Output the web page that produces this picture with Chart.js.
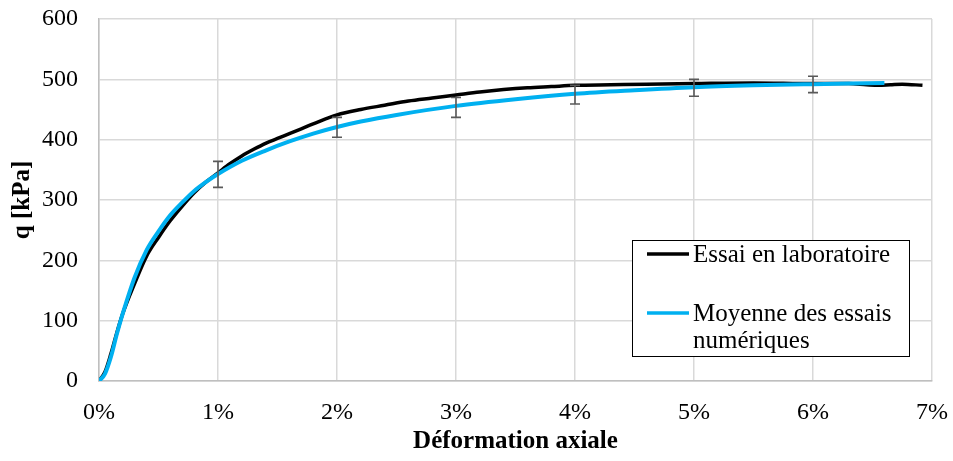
<!DOCTYPE html>
<html>
<head>
<meta charset="utf-8">
<script src="https://cdn.jsdelivr.net/npm/chart.js@4/dist/chart.umd.min.js"></script>
<style>
html,body{margin:0;padding:0;background:#fff;}
#wrap{width:953px;height:461px;position:relative;}
</style>
</head>
<body>
<div id="wrap"><canvas id="c" width="953" height="461"></canvas></div>
<script>
// Data (x in % axial strain, y in kPa)
const labX = [0,0.05,0.1,0.15,0.2,0.3,0.4,0.5,0.6,0.7,0.8,0.9,1.0,1.1,1.2,1.3,1.4,1.5,1.6,1.7,1.8,2.0,2.2,2.4,2.6,2.8,3.0,3.2,3.4,3.6,3.8,4.0,4.3,4.6,5.0,5.5,6.0,6.3,6.45,6.55,6.65,6.75,6.92];
const labQ = [0,15,45,80,112,162,207,238,266,290,312,330,345,360,373,384,394,402,410,418,426,441,450,457,464,469,474,479,483,486,488,490,491,492,493,494,493,493,491,490,491,492,490];
const numX = [0,0.05,0.1,0.15,0.2,0.3,0.4,0.5,0.6,0.7,0.8,0.9,1.0,1.2,1.4,1.6,1.8,2.0,2.2,2.5,3.0,3.5,4.0,4.5,5.0,5.5,6.0,6.3,6.6];
const numQ = [0,12,40,78,112,172,217,248,275,296,315,330,343,365,382,397,410,421,430,441,456,467,476,482,487,490,492,493,494];
const errX = [1,2,3,4,5,6];
const errLow = [321,404,437,459,472,478];
const errHigh = [364,437,470,490,500,505];
const xTicks = [0,1,2,3,4,5,6,7];
const yTicks = [0,100,200,300,400,500,600];
const seriesNames = ['Essai en laboratoire','Moyenne des essais numériques'];

const toPts = (xs, ys) => xs.map((x,i)=>({x:x, y:ys[i]}));
const FONT = '"Liberation Serif", "Times New Roman", serif';

const errorBars = {
  id:'errorBars',
  afterDatasetsDraw(chart){
    const {ctx, scales:{x,y}} = chart;
    ctx.save();
    ctx.strokeStyle = '#595959';
    ctx.lineWidth = 1.6;
    errX.forEach((v,i)=>{
      const px = x.getPixelForValue(v);
      const y1 = y.getPixelForValue(errLow[i]);
      const y2 = y.getPixelForValue(errHigh[i]);
      ctx.beginPath();
      ctx.moveTo(px,y1); ctx.lineTo(px,y2);
      ctx.moveTo(px-5,y1); ctx.lineTo(px+5,y1);
      ctx.moveTo(px-5,y2); ctx.lineTo(px+5,y2);
      ctx.stroke();
    });
    ctx.restore();
  }
};

const boxLegend = {
  id:'boxLegend',
  afterDraw(chart){
    const {ctx, chartArea:a} = chart;
    const L = a.right - 300, T = a.top + 221, W = 277, H = 116;
    ctx.save();
    ctx.fillStyle = '#fff';
    ctx.fillRect(L,T,W,H);
    ctx.strokeStyle = '#000';
    ctx.lineWidth = 1;
    ctx.strokeRect(L+0.5,T+0.5,W,H);
    const ds = chart.data.datasets;
    ctx.font = '25px ' + FONT;
    ctx.textBaseline = 'middle';
    ctx.fillStyle = '#000';
    ctx.lineWidth = 3.5;
    ctx.strokeStyle = ds[0].borderColor;
    ctx.beginPath(); ctx.moveTo(L+15,T+14); ctx.lineTo(L+57,T+14); ctx.stroke();
    ctx.fillText(ds[0].label, L+61, T+15);
    ctx.strokeStyle = ds[1].borderColor;
    ctx.beginPath(); ctx.moveTo(L+15,T+73); ctx.lineTo(L+57,T+73); ctx.stroke();
    ctx.fillText('Moyenne des essais', L+61, T+74);
    ctx.fillText('numériques', L+61, T+101);
    ctx.restore();
  }
};

new Chart(document.getElementById('c'), {
  type:'line',
  data:{
    datasets:[
      {label:seriesNames[0], data:toPts(labX,labQ), borderColor:'#000000', borderWidth:3.5, pointRadius:0, cubicInterpolationMode:'monotone', order:1, fill:false},
      {label:seriesNames[1], data:toPts(numX,numQ), borderColor:'#00B0F0', borderWidth:4, pointRadius:0, cubicInterpolationMode:'monotone', order:0, fill:false}
    ]
  },
  options:{
    responsive:false,
    animation:false,
    events:[],
    layout:{padding:{top:0,right:0,left:0,bottom:4}},
    plugins:{legend:{display:false}, tooltip:{enabled:false}},
    scales:{
      x:{
        type:'linear', min:0, max:7,
        afterBuildTicks(s){ s.ticks = xTicks.map(v=>({value:v})); },
        afterFit(s){ s.height = 76; s.paddingRight = 21; s.paddingLeft = 0; },
        ticks:{callback:v=>v+'%', color:'#000', font:{family:FONT, size:24}, padding:17, maxRotation:0},
        grid:{color:'#d9d9d9', lineWidth:1.5, drawTicks:false},
        border:{color:'#bfbfbf', width:1.5},
        title:{display:true, text:'Déformation axiale', color:'#000', font:{family:FONT, size:25, weight:'bold'}, padding:{top:0,bottom:0}}
      },
      y:{
        type:'linear', min:0, max:600,
        afterBuildTicks(s){ s.ticks = yTicks.map(v=>({value:v})); },
        afterFit(s){ s.width = 99; s.paddingTop = 19; s.paddingBottom = 0; },
        ticks:{color:'#000', font:{family:FONT, size:24}, padding:21},
        grid:{color:'#d9d9d9', lineWidth:1.5, drawTicks:false},
        border:{color:'#bfbfbf', width:1.5},
        title:{display:true, text:'q [kPa]', color:'#000', font:{family:FONT, size:25, weight:'bold'}, padding:{top:8,bottom:0}}
      }
    }
  },
  plugins:[errorBars, boxLegend]
});
</script>
</body>
</html>
